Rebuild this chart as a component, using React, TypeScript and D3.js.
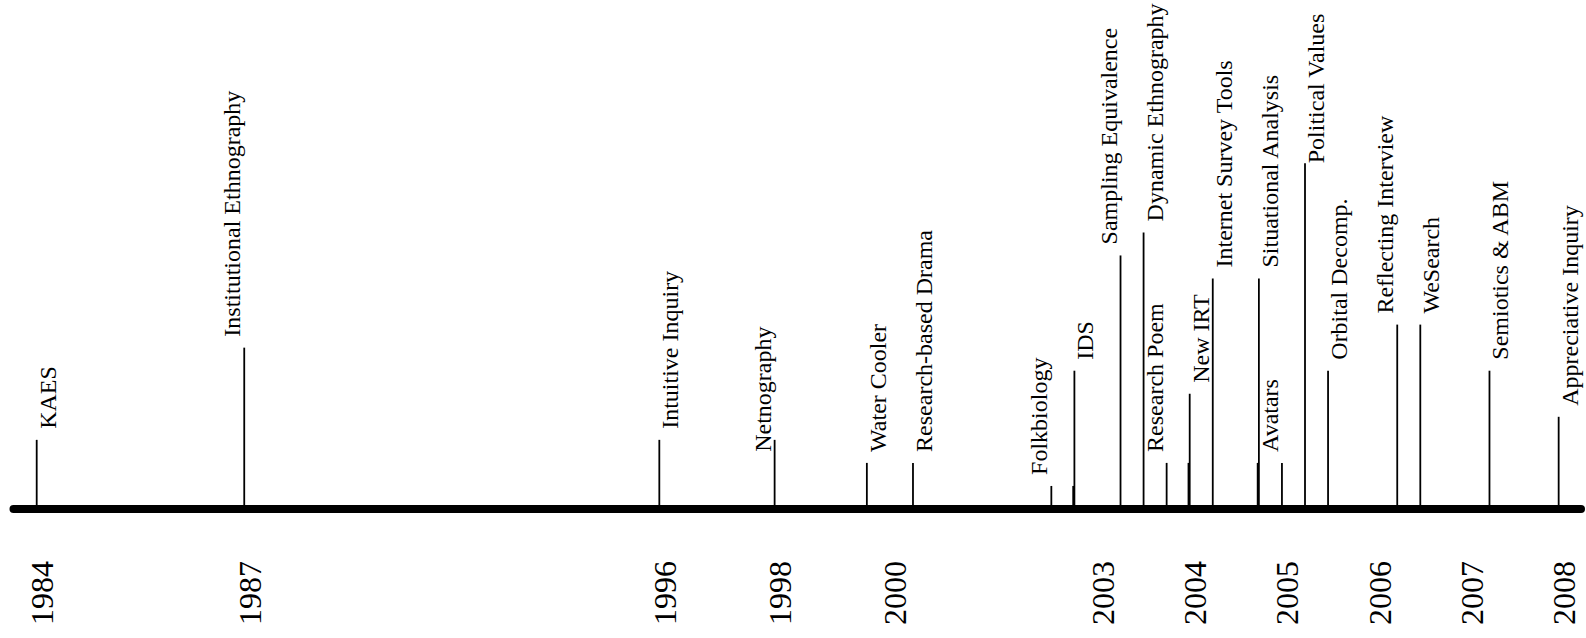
import React from "react";
import * as d3 from "d3";

const WIDTH = 1586;
const HEIGHT = 638;
const AXIS_Y = 509;
const FONT = "'Liberation Serif', 'Times New Roman', serif";

// events along the timeline: slot on the grid, stem height (grid units), which side the label sits on
const EVENT_LABELS = [
  "KAES",
  "Institutional Ethnography",
  "Intuitive Inquiry",
  "Netnography",
  "Water Cooler",
  "Research-based Drama",
  "Folkbiology",
  "IDS",
  "Sampling Equivalence",
  "Dynamic Ethnography",
  "Research Poem",
  "New IRT",
  "Internet Survey Tools",
  "Situational Analysis",
  "Avatars",
  "Political Values",
  "Orbital Decomp.",
  "Reflecting Interview",
  "WeSearch",
  "Semiotics & ABM",
  "Appreciative Inquiry",
];
const EVENT_SLOTS = [0, 9, 27, 32, 36, 38, 44, 45, 47, 48, 49, 50, 51, 53, 54, 55, 56, 59, 60, 63, 66];
const EVENT_LEVELS = [3, 7, 3, 3, 2, 2, 1, 6, 11, 12, 2, 5, 10, 10, 2, 15, 6, 8, 8, 6, 4];
const LABEL_SIDES = ["r", "l", "r", "l", "r", "r", "l", "r", "l", "r", "l", "r", "r", "r", "l", "r", "r", "l", "r", "r", "r"];

// short leftover stubs drawn under a few of the longer stems
const STUB_SLOTS = [45, 50, 53];
const STUB_LEVELS = [1, 2, 2];

const YEAR_LABELS = ["1984", "1987", "1996", "1998", "2000", "2003", "2004", "2005", "2006", "2007", "2008"];
const YEAR_SLOTS = [0, 9, 27, 32, 37, 46, 50, 54, 58, 62, 66];

// hand nudges for labels that were placed beside their stem instead of above it
const LABEL_NUDGE: Record<string, number> = {
  Netnography: 23,
  "Political Values": 11,
};

const x = d3.scaleLinear().domain([0, 66]).range([36.7, 36.7 + 66 * 23.06]);
const y = d3.scaleLinear().domain([0, 15]).range([AXIS_Y, AXIS_Y - 15 * 23.05]);

export default function App() {
  const events = EVENT_LABELS.map((label, i) => ({
    label,
    slot: EVENT_SLOTS[i],
    level: EVENT_LEVELS[i],
    side: LABEL_SIDES[i],
  }));

  return (
    <svg
      width={WIDTH}
      height={HEIGHT}
      style={{ position: "absolute", left: 0, top: 0, background: "#fff" }}
    >
      {/* stems */}
      {events.map((d) => (
        <line
          key={"s" + d.label}
          x1={x(d.slot)}
          x2={x(d.slot)}
          y1={AXIS_Y}
          y2={y(d.level)}
          stroke="#000"
          strokeWidth={1.8}
        />
      ))}
      {STUB_SLOTS.map((s, i) => (
        <line
          key={"stub" + s}
          x1={x(s) - 1.2}
          x2={x(s) - 1.2}
          y1={AXIS_Y}
          y2={y(STUB_LEVELS[i])}
          stroke="#000"
          strokeWidth={1.8}
        />
      ))}

      {/* main axis */}
      <line
        x1={13.5}
        x2={1581}
        y1={AXIS_Y}
        y2={AXIS_Y}
        stroke="#000"
        strokeWidth={8}
        strokeLinecap="round"
      />

      {/* event labels */}
      {events.map((d) => {
        const bx = d.side === "r" ? x(d.slot) + 19 : x(d.slot) - 4;
        const by = y(d.level) - 11 + (LABEL_NUDGE[d.label] || 0);
        return (
          <text
            key={"t" + d.label}
            transform={`translate(${bx},${by}) rotate(-90)`}
            style={{ fontFamily: FONT, fontSize: 24, fill: "#000" }}
          >
            {d.label}
          </text>
        );
      })}

      {/* year labels */}
      {YEAR_LABELS.map((yr, i) => (
        <text
          key={yr}
          transform={`translate(${x(YEAR_SLOTS[i]) + 16.5},${625}) rotate(-90)`}
          style={{ fontFamily: FONT, fontSize: 32, fill: "#000" }}
        >
          {yr}
        </text>
      ))}
    </svg>
  );
}
